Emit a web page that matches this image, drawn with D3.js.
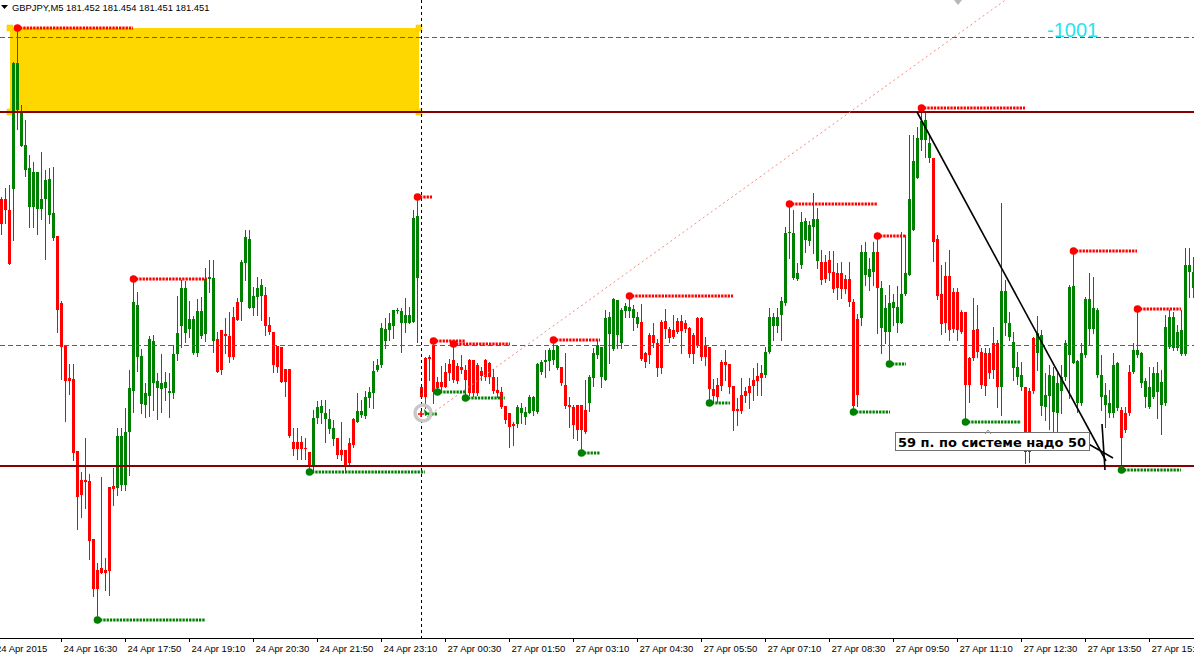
<!DOCTYPE html>
<html>
<head>
<meta charset="utf-8">
<script src="https://cdn.jsdelivr.net/npm/d3@7"></script>
<style>
  body { margin: 0; background: #fff; }
  svg { display: block; }
  text { font-family: 'Liberation Sans', Arial, sans-serif; }
</style>
</head>
<body>
<div id="chart_candles"></div>
<script>
// GBPJPY M5 bars (bar 0 = 24 Apr 15:15)
const open = [
  181.524, 181.524, 181.513, 181.534, 181.613, 181.577, 181.553, 181.516, 181.516, 181.514,
  181.514, 181.524, 181.508, 181.485, 181.487, 181.420, 181.378, 181.345, 181.344, 181.272,
  181.243, 181.243, 181.242, 181.184, 181.153, 181.155, 181.153, 181.236, 181.237, 181.235,
  181.238, 181.238, 181.291, 181.332, 181.366, 181.319, 181.318, 181.327, 181.340, 181.335,
  181.334, 181.335, 181.330, 181.330, 181.369, 181.397, 181.390, 181.394, 181.370, 181.370,
  181.387, 181.389, 181.444, 181.382, 181.384, 181.393, 181.389, 181.387, 181.406, 181.421,
  181.421, 181.460, 181.415, 181.415, 181.426, 181.427, 181.428, 181.398, 181.391, 181.377,
  181.376, 181.354, 181.354, 181.281, 181.281, 181.281, 181.275, 181.271, 181.256, 181.305,
  181.310, 181.304, 181.294, 181.284, 181.285, 181.273, 181.273, 181.280, 181.304, 181.301,
  181.308, 181.307, 181.325, 181.330, 181.353, 181.358, 181.382, 181.393, 181.397, 181.412,
  181.400, 181.400, 181.400, 181.401, 181.445, 181.336, 181.365, 181.366, 181.378, 181.341,
  181.341, 181.351, 181.359, 181.363, 181.357, 181.356, 181.353, 181.363, 181.363, 181.358,
  181.352, 181.363, 181.360, 181.346, 181.333, 181.331, 181.317, 181.310, 181.299, 181.299,
  181.310, 181.306, 181.310, 181.312, 181.311, 181.351, 181.361, 181.362, 181.363, 181.355,
  181.356, 181.338, 181.318, 181.316, 181.318, 181.318, 181.313, 181.320, 181.345, 181.368,
  181.346, 181.343, 181.389, 181.374, 181.388, 181.380, 181.412, 181.412, 181.405, 181.399,
  181.401, 181.370, 181.388, 181.388, 181.380, 181.401, 181.402, 181.394, 181.393, 181.402,
  181.402, 181.400, 181.395, 181.388, 181.405, 181.405, 181.377, 181.376, 181.334, 181.338,
  181.361, 181.361, 181.359, 181.337, 181.314, 181.328, 181.332, 181.337, 181.343, 181.347,
  181.350, 181.348, 181.371, 181.397, 181.397, 181.408, 181.420, 181.490, 181.445, 181.444,
  181.458, 181.483, 181.482, 181.496, 181.462, 181.461, 181.461, 181.463, 181.451, 181.450,
  181.450, 181.444, 181.444, 181.421, 181.404, 181.405, 181.448, 181.446, 181.451, 181.471,
  181.395, 181.391, 181.391, 181.415, 181.400, 181.400, 181.429, 181.448, 181.493, 181.545,
  181.583, 181.583, 181.565, 181.565, 181.484, 181.429, 181.447, 181.447, 181.431, 181.431,
  181.411, 181.411, 181.365, 181.393, 181.394, 181.371, 181.370, 181.370, 181.380, 181.380,
  181.336, 181.400, 181.386, 181.355, 181.346, 181.336, 181.336, 181.332, 181.385, 181.370,
  181.317, 181.316, 181.327, 181.311, 181.310, 181.332, 181.346, 181.368, 181.360, 181.320,
  181.320, 181.368, 181.394, 181.394, 181.348, 181.326, 181.318, 181.310, 181.310, 181.315,
  181.313, 181.310, 181.351, 181.351, 181.368, 181.340, 181.326, 181.316, 181.326, 181.331,
  181.318, 181.320, 181.376, 181.375, 181.375, 181.369, 181.369, 181.451, 181.435
];
const high = [
  181.526, 181.535, 181.538, 181.661, 181.695, 181.618, 181.603, 181.568, 181.561, 181.551,
  181.571, 181.553, 181.555, 181.556, 181.487, 181.422, 181.378, 181.359, 181.359, 181.272,
  181.251, 181.285, 181.249, 181.184, 181.160, 181.246, 181.165, 181.236, 181.255, 181.295,
  181.295, 181.315, 181.353, 181.444, 181.431, 181.374, 181.340, 181.387, 181.388, 181.350,
  181.369, 181.351, 181.350, 181.378, 181.427, 181.443, 181.442, 181.422, 181.407, 181.424,
  181.426, 181.455, 181.463, 181.463, 181.391, 181.393, 181.405, 181.411, 181.416, 181.425,
  181.463, 181.493, 181.493, 181.436, 181.446, 181.444, 181.436, 181.406, 181.391, 181.377,
  181.376, 181.354, 181.354, 181.295, 181.295, 181.287, 181.285, 181.271, 181.313, 181.322,
  181.323, 181.323, 181.314, 181.303, 181.285, 181.301, 181.273, 181.285, 181.305, 181.330,
  181.323, 181.332, 181.336, 181.362, 181.364, 181.400, 181.405, 181.410, 181.413, 181.415,
  181.415, 181.425, 181.416, 181.513, 181.526, 181.338, 181.366, 181.368, 181.382, 181.346,
  181.357, 181.360, 181.364, 181.379, 181.360, 181.368, 181.358, 181.364, 181.363, 181.360,
  181.356, 181.364, 181.361, 181.354, 181.346, 181.336, 181.317, 181.310, 181.301, 181.318,
  181.320, 181.316, 181.328, 181.327, 181.360, 181.363, 181.373, 181.375, 181.383, 181.378,
  181.356, 181.370, 181.326, 181.318, 181.318, 181.318, 181.343, 181.348, 181.375, 181.383,
  181.376, 181.413, 181.411, 181.425, 181.423, 181.415, 181.420, 181.427, 181.418, 181.411,
  181.419, 181.371, 181.390, 181.400, 181.384, 181.403, 181.414, 181.396, 181.408, 181.405,
  181.408, 181.403, 181.396, 181.390, 181.406, 181.406, 181.386, 181.376, 181.344, 181.345,
  181.363, 181.373, 181.359, 181.337, 181.325, 181.345, 181.336, 181.345, 181.355, 181.360,
  181.358, 181.376, 181.415, 181.410, 181.415, 181.426, 181.496, 181.519, 181.513, 181.460,
  181.511, 181.505, 181.502, 181.530, 181.515, 181.473, 181.468, 181.472, 181.472, 181.460,
  181.461, 181.448, 181.461, 181.424, 181.409, 181.478, 181.481, 181.465, 181.481, 181.487,
  181.442, 181.428, 181.438, 181.429, 181.437, 181.491, 181.488, 181.588, 181.588, 181.596,
  181.615, 181.610, 181.589, 181.565, 181.488, 181.458, 181.461, 181.473, 181.435, 181.435,
  181.413, 181.411, 181.366, 181.425, 181.418, 181.375, 181.375, 181.375, 181.396, 181.383,
  181.520, 181.443, 181.411, 181.391, 181.371, 181.361, 181.336, 181.335, 181.386, 181.407,
  181.393, 181.350, 181.358, 181.356, 181.350, 181.358, 181.383, 181.438, 181.472, 181.363,
  181.380, 181.426, 181.450, 181.446, 181.415, 181.368, 181.340, 181.333, 181.370, 181.361,
  181.316, 181.316, 181.358, 181.380, 181.414, 181.371, 181.345, 181.356, 181.356, 181.361,
  181.353, 181.408, 181.413, 181.411, 181.398, 181.413, 181.475, 181.475, 181.466
];
const low = [
  181.489, 181.500, 181.459, 181.483, 181.594, 181.577, 181.547, 181.496, 181.496, 181.489,
  181.504, 181.464, 181.500, 181.483, 181.391, 181.344, 181.302, 181.329, 181.263, 181.194,
  181.206, 181.215, 181.164, 181.127, 181.103, 181.150, 181.133, 181.128, 181.218, 181.228,
  181.233, 181.233, 181.248, 181.311, 181.352, 181.310, 181.306, 181.307, 181.313, 181.304,
  181.311, 181.323, 181.306, 181.325, 181.363, 181.376, 181.381, 181.386, 181.369, 181.367,
  181.385, 181.382, 181.431, 181.371, 181.351, 181.349, 181.370, 181.361, 181.364, 181.403,
  181.403, 181.443, 181.415, 181.408, 181.408, 181.403, 181.388, 181.389, 181.351, 181.351,
  181.341, 181.327, 181.286, 181.268, 181.264, 181.264, 181.264, 181.251, 181.253, 181.300,
  181.300, 181.281, 181.290, 181.278, 181.265, 181.263, 181.252, 181.258, 181.276, 181.301,
  181.306, 181.305, 181.316, 181.315, 181.352, 181.356, 181.375, 181.383, 181.385, 181.410,
  181.371, 181.391, 181.400, 181.401, 181.381, 181.325, 181.315, 181.343, 181.320, 181.331,
  181.333, 181.336, 181.343, 181.341, 181.340, 181.350, 181.325, 181.328, 181.327, 181.328,
  181.343, 181.343, 181.340, 181.330, 181.326, 181.315, 181.300, 181.276, 181.278, 181.296,
  181.300, 181.299, 181.310, 181.308, 181.310, 181.349, 181.346, 181.353, 181.359, 181.354,
  181.338, 181.315, 181.296, 181.285, 181.283, 181.270, 181.290, 181.312, 181.337, 181.365,
  181.336, 181.343, 181.360, 181.373, 181.375, 181.375, 181.406, 181.406, 181.393, 181.396,
  181.363, 181.356, 181.360, 181.376, 181.347, 181.350, 181.385, 181.381, 181.385, 181.390,
  181.370, 181.391, 181.366, 181.360, 181.376, 181.363, 181.358, 181.320, 181.320, 181.321,
  181.333, 181.343, 181.330, 181.293, 181.298, 181.310, 181.321, 181.315, 181.323, 181.328,
  181.328, 181.346, 181.370, 181.383, 181.391, 181.383, 181.418, 181.465, 181.444, 181.443,
  181.455, 181.471, 181.478, 181.470, 181.455, 181.439, 181.441, 181.443, 181.431, 181.424,
  181.425, 181.430, 181.417, 181.311, 181.317, 181.398, 181.438, 181.433, 181.438, 181.390,
  181.370, 181.380, 181.359, 181.398, 181.391, 181.400, 181.428, 181.448, 181.493, 181.545,
  181.573, 181.566, 181.561, 181.462, 181.424, 181.389, 181.391, 181.383, 181.391, 181.383,
  181.390, 181.301, 181.321, 181.363, 181.366, 181.335, 181.328, 181.345, 181.345, 181.316,
  181.308, 181.388, 181.383, 181.343, 181.339, 181.333, 181.260, 181.261, 181.330, 181.353,
  181.308, 181.303, 181.294, 181.291, 181.286, 181.310, 181.343, 181.325, 181.360, 181.311,
  181.318, 181.366, 181.378, 181.390, 181.346, 181.313, 181.296, 181.306, 181.306, 181.313,
  181.253, 181.291, 181.308, 181.350, 181.366, 181.336, 181.316, 181.315, 181.325, 181.305,
  181.289, 181.318, 181.375, 181.373, 181.373, 181.368, 181.368, 181.426, 181.426
];
const close = [
  181.499, 181.513, 181.459, 181.660, 181.660, 181.611, 181.578, 181.555, 181.551, 181.551,
  181.524, 181.543, 181.544, 181.510, 181.413, 181.376, 181.342, 181.342, 181.270, 181.226,
  181.228, 181.241, 181.182, 181.134, 181.134, 181.150, 181.150, 181.152, 181.234, 181.287,
  181.287, 181.291, 181.335, 181.421, 181.418, 181.367, 181.330, 181.384, 181.382, 181.342,
  181.340, 181.341, 181.332, 181.369, 181.390, 181.435, 181.435, 181.404, 181.404, 181.412,
  181.412, 181.444, 181.446, 181.445, 181.351, 181.353, 181.387, 181.366, 181.366, 181.403,
  181.461, 181.486, 181.484, 181.427, 181.435, 181.438, 181.397, 181.391, 181.358, 181.356,
  181.341, 181.341, 181.287, 181.274, 181.274, 181.274, 181.274, 181.256, 181.305, 181.316,
  181.317, 181.310, 181.304, 181.295, 181.268, 181.268, 181.257, 181.260, 181.278, 181.312,
  181.312, 181.326, 181.331, 181.352, 181.358, 181.395, 181.394, 181.400, 181.413, 181.413,
  181.412, 181.408, 181.408, 181.505, 181.507, 181.326, 181.326, 181.364, 181.331, 181.335,
  181.336, 181.336, 181.350, 181.343, 181.342, 181.353, 181.343, 181.330, 181.330, 181.330,
  181.347, 181.346, 181.346, 181.332, 181.330, 181.316, 181.303, 181.296, 181.297, 181.316,
  181.315, 181.311, 181.326, 181.326, 181.359, 181.361, 181.363, 181.373, 181.373, 181.377,
  181.340, 181.317, 181.316, 181.298, 181.293, 181.293, 181.291, 181.346, 181.370, 181.378,
  181.376, 181.405, 181.406, 181.424, 181.423, 181.413, 181.417, 181.416, 181.414, 181.406,
  181.364, 181.361, 181.368, 181.380, 181.355, 181.355, 181.394, 181.385, 181.386, 181.391,
  181.392, 181.394, 181.369, 181.369, 181.377, 181.366, 181.366, 181.334, 181.327, 181.326,
  181.337, 181.358, 181.336, 181.312, 181.312, 181.312, 181.327, 181.330, 181.337, 181.342,
  181.345, 181.371, 181.406, 181.406, 181.406, 181.422, 181.490, 181.491, 181.490, 181.450,
  181.501, 181.502, 181.498, 181.504, 181.504, 181.443, 181.444, 181.450, 181.434, 181.435,
  181.434, 181.434, 181.421, 181.317, 181.328, 181.471, 181.471, 181.454, 181.471, 181.435,
  181.435, 181.415, 181.420, 181.421, 181.416, 181.429, 181.450, 181.524, 181.562, 181.585,
  181.602, 181.603, 181.580, 181.481, 181.427, 181.399, 181.400, 181.393, 181.394, 181.393,
  181.391, 181.338, 181.338, 181.365, 181.371, 181.338, 181.337, 181.350, 181.353, 181.336,
  181.432, 181.432, 181.400, 181.381, 181.356, 181.348, 181.271, 181.271, 181.332, 181.390,
  181.388, 181.328, 181.348, 181.347, 181.340, 181.346, 181.380, 181.436, 181.437, 181.362,
  181.370, 181.424, 181.424, 181.415, 181.413, 181.348, 181.328, 181.320, 181.358, 181.360,
  181.285, 181.293, 181.310, 181.373, 181.373, 181.370, 181.342, 181.336, 181.350, 181.350,
  181.341, 181.396, 181.406, 181.406, 181.391, 181.393, 181.458, 181.458, 181.451
];

// time axis
const firstLabel = '24 Apr 2015';
const tickBars = [15, 31, 47, 63, 79, 95, 111, 127, 143, 159, 175, 191, 207, 223, 239, 255, 271, 287];
const tickLabels = [
  '24 Apr 16:30', '24 Apr 17:50', '24 Apr 19:10', '24 Apr 20:30', '24 Apr 21:50', '24 Apr 23:10',
  '27 Apr 00:30', '27 Apr 01:50', '27 Apr 03:10', '27 Apr 04:30', '27 Apr 05:50', '27 Apr 07:10',
  '27 Apr 08:30', '27 Apr 09:50', '27 Apr 11:10', '27 Apr 12:30', '27 Apr 13:50', '27 Apr 15:10'
];

// indicator swing points: bar where the dot sits, bar where its dotted level stops
const highMarkBars = [4, 33, 104, 108, 113, 138, 157, 197, 219, 230, 268, 284];
const highMarkEnds = [33, 51.5, 107.75, 116, 127.25, 149.75, 183, 219, 226, 256, 284, 295];
const lowMarkBars = [24, 77, 109, 116, 145, 177, 213, 222, 241, 280];
const lowMarkEnds = [51, 106, 116, 126, 149.75, 182.25, 222.25, 226.25, 255, 295];

// chart objects
const redLevels = [181.611, 181.257];
const greenLevels = [181.686, 181.378];
const daySeparators = [105];
const boxBars = [2.25, 104.5];
const boxPrices = [181.695, 181.611];
const trendLine = [[229, 181.611], [276.25, 181.262]];
const arrowStrokes = [[[275.25, 181.299], [276, 181.253]], [[271, 181.281], [278, 181.265]]];
const pinkLine = [[106.5, 181.306], [251.1, 181.723]];
const noteText = '59 п. по системе надо 50';
const notePos = [223.5, 181.291];
const counterText = '-1001';
const counterPos = [261.5, 181.686];
const titleText = 'GBPJPY,M5  181.452 181.454 181.451 181.451';

const width = 1194;
const height = 655;
const plotBottom = 638;
const bull = '#008000';
const bear = '#ff0000';

const svg = d3
  .select('#chart_candles')
  .append('svg')
  .attr('width', width)
  .attr('height', height);

// 4 px per bar, bar 0 centred at x=1
const x = d3.scaleLinear().domain([-0.25, 298.25]).range([0, width]);
const y = d3.scaleLinear().domain([181.723, 181.085]).range([0, plotBottom]);
const bars = d3.range(open.length);

// yellow rectangle (background object)
const box = svg.append('g');
box.append('rect')
  .attr('x', x(boxBars[0]))
  .attr('y', y(boxPrices[0]))
  .attr('width', x(boxBars[1]) - x(boxBars[0]))
  .attr('height', y(boxPrices[1]) - y(boxPrices[0]))
  .attr('fill', '#ffd700');
box.selectAll('rect.handle')
  .data([[boxBars[0], boxPrices[0]], [boxBars[1], boxPrices[0]], [boxBars[0], boxPrices[1]], [boxBars[1], boxPrices[1]]])
  .enter()
  .append('rect')
  .attr('class', 'handle')
  .attr('x', (d) => x(d[0]) - 3)
  .attr('y', (d) => y(d[1]) - 3)
  .attr('width', 6)
  .attr('height', 6)
  .attr('fill', '#ffd700')
  .attr('stroke', '#f0c000')
  .attr('stroke-width', 0.5);

// candles
const candles = svg.append('g').attr('shape-rendering', 'crispEdges');
candles.selectAll('line')
  .data(bars)
  .enter()
  .append('line')
  .attr('x1', (d) => x(d) + 0.5)
  .attr('x2', (d) => x(d) + 0.5)
  .attr('y1', (d) => y(high[d]))
  .attr('y2', (d) => y(low[d]) + 1)
  .attr('stroke', (d) => (close[d] >= open[d] ? bull : bear))
  .attr('stroke-width', 1);
candles.selectAll('rect')
  .data(bars)
  .enter()
  .append('rect')
  .attr('x', (d) => x(d) - 1)
  .attr('width', 3)
  .attr('y', (d) => y(Math.max(open[d], close[d])))
  .attr('height', (d) => Math.max(1, Math.abs(y(open[d]) - y(close[d]))))
  .attr('fill', (d) => (close[d] >= open[d] ? bull : bear));

// horizontal lines and period separator
const lines = svg.append('g');
lines.selectAll('line.red')
  .data(redLevels)
  .enter()
  .append('line')
  .attr('x1', 0)
  .attr('x2', width)
  .attr('y1', (d) => y(d))
  .attr('y2', (d) => y(d))
  .attr('stroke', '#880000')
  .attr('stroke-width', 2);
lines.selectAll('line.green')
  .data(greenLevels)
  .enter()
  .append('line')
  .attr('x1', 0)
  .attr('x2', width)
  .attr('y1', (d) => Math.round(y(d)) + 0.5)
  .attr('y2', (d) => Math.round(y(d)) + 0.5)
  .attr('shape-rendering', 'crispEdges')
  .style('stroke', '#00a000')
  .style('stroke-width', 1)
  .style('stroke-dasharray', '5,3');
lines.selectAll('line.sep')
  .data(daySeparators)
  .enter()
  .append('line')
  .attr('x1', (d) => x(d) + 0.5)
  .attr('x2', (d) => x(d) + 0.5)
  .attr('y1', 0)
  .attr('y2', plotBottom)
  .attr('stroke', '#000')
  .attr('stroke-width', 1)
  .attr('stroke-dasharray', '3,3');

// pink dotted ray
lines.append('line')
  .attr('x1', x(pinkLine[0][0]))
  .attr('y1', y(pinkLine[0][1]))
  .attr('x2', x(pinkLine[1][0]))
  .attr('y2', y(pinkLine[1][1]))
  .attr('stroke', '#f4877f')
  .attr('stroke-width', 1)
  .attr('stroke-dasharray', '2,3');
lines.append('path')
  .attr('d', 'M954,0 L962,0 L958,5 Z')
  .attr('fill', '#b8b8b8');

// black trend line + arrow strokes
const seg = d3.line().x((d) => x(d[0])).y((d) => y(d[1]));
lines.append('path')
  .attr('d', seg(trendLine))
  .attr('stroke', '#000')
  .attr('stroke-width', 1.6)
  .attr('fill', 'none');
lines.selectAll('path.arrow')
  .data(arrowStrokes)
  .enter()
  .append('path')
  .attr('d', (d) => seg(d))
  .attr('stroke', '#000')
  .attr('stroke-width', 1.6)
  .attr('fill', 'none');

// swing markers
const marks = svg.append('g');
function drawMarks(barsList, ends, values, color) {
  marks.selectAll(null)
    .data(barsList)
    .enter()
    .append('line')
    .attr('x1', (d) => x(d) + 3)
    .attr('x2', (d, i) => x(ends[i]))
    .attr('y1', (d) => y(values[d]))
    .attr('y2', (d) => y(values[d]))
    .attr('stroke', color)
    .attr('stroke-width', 3)
    .attr('stroke-dasharray', '2.3,1');
  marks.selectAll(null)
    .data(barsList)
    .enter()
    .append('circle')
    .attr('cx', (d) => x(d) + 0.5)
    .attr('cy', (d) => y(values[d]))
    .attr('r', 3.8)
    .attr('fill', color);
}
drawMarks(highMarkBars, highMarkEnds, high, '#ff0000');
drawMarks(lowMarkBars, lowMarkEnds, low, '#008000');

// selected trade symbol near the separator
const sym = svg.append('g').attr('transform', 'translate(' + [x(105.5), y(181.310)] + ')');
sym.append('line')
  .attr('x1', 5).attr('x2', 14).attr('y1', 1).attr('y2', 1)
  .attr('stroke', '#008000').attr('stroke-width', 3).attr('stroke-dasharray', '2.3,1');
sym.append('circle')
  .attr('r', 8)
  .attr('fill', 'none')
  .attr('stroke', '#c8c8c8')
  .attr('stroke-width', 3.5);
sym.append('path')
  .attr('d', 'M-5,1 H1 M-2,-2 V4')
  .attr('stroke', '#ff0000')
  .attr('stroke-width', 1.6);
sym.append('path')
  .attr('d', 'M1,-4 L6,1 L2,3 Z')
  .attr('fill', '#008000');

// text label with frame
const note = svg.append('g');
const noteX = x(notePos[0]);
const noteY = y(notePos[1]);
const noteLabel = note.append('text')
  .attr('x', noteX + 3)
  .attr('y', noteY + 14.5)
  .attr('font-size', 13)
  .attr('font-weight', 'bold')
  .style('font-family', "'DejaVu Sans', sans-serif")
  .attr('fill', '#000')
  .text(noteText);
const nb = noteLabel.node().getBBox();
note.insert('rect', 'text')
  .attr('x', noteX + 0.5)
  .attr('y', noteY + 0.5)
  .attr('width', Math.round(nb.width) + 6)
  .attr('height', 18)
  .attr('fill', '#fff')
  .attr('stroke', '#707070')
  .attr('stroke-width', 1);
note.append('path')
  .attr('d', 'M985,434 L988,430 L991,434')
  .attr('fill', 'none')
  .attr('stroke', '#909090')
  .attr('stroke-width', 1);

svg.append('text')
  .attr('x', x(counterPos[0]))
  .attr('y', y(counterPos[1]))
  .attr('font-size', 20)
  .attr('fill', '#1fe5f0')
  .text(counterText);

// title
svg.append('path').attr('d', 'M1,5 L8,5 L4.5,9 Z').attr('fill', '#000');
svg.append('text')
  .attr('x', 12)
  .attr('y', 10.5)
  .attr('font-size', 9.4)
  .attr('fill', '#000')
  .text(titleText);

// bottom time axis
const xAxis = d3
  .axisBottom(x)
  .tickValues(tickBars)
  .tickSize(4)
  .tickSizeOuter(0)
  .tickFormat((d, i) => tickLabels[i]);
const ax = svg.append('g')
  .attr('transform', 'translate(0,' + plotBottom + ')')
  .call(xAxis);
ax.select('.domain').attr('stroke', '#000').attr('d', 'M0,0.5H' + width);
ax.selectAll('.tick line').attr('stroke', '#000');
ax.selectAll('.tick text')
  .attr('text-anchor', 'start')
  .attr('x', 2)
  .attr('font-size', 9.5)
  .attr('fill', '#000');
ax.append('text')
  .attr('x', -4)
  .attr('y', 7)
  .attr('dy', '0.71em')
  .attr('text-anchor', 'start')
  .attr('font-size', 9.5)
  .attr('fill', '#000')
  .text(firstLabel);
</script>
</body>
</html>
